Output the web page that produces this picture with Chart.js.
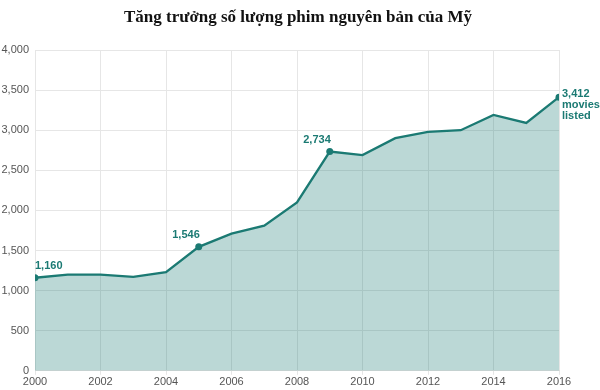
<!DOCTYPE html>
<html>
<head>
<meta charset="utf-8">
<script src="https://cdn.jsdelivr.net/npm/chart.js@4"></script>
<style>
  html, body { margin: 0; padding: 0; background: #fff; }
  #wrap { width: 600px; height: 390px; }
</style>
</head>
<body>
<div id="wrap"><canvas id="filmChart"></canvas></div>
<script>
// data
const years = [2000, 2001, 2002, 2003, 2004, 2005, 2006, 2007, 2008, 2009, 2010, 2011, 2012, 2013, 2014, 2015, 2016];
const movieCounts = [1160, 1200, 1200, 1170, 1230, 1546, 1710, 1810, 2100, 2734, 2690, 2900, 2980, 3000, 3190, 3090, 3412];
const labelledYears = [2000, 2005, 2009, 2016];
const labelExtra = { 2016: ['movies', 'listed'] };
const chartTitle = 'Tăng trưởng số lượng phim nguyên bản của Mỹ';

const lineColor = '#1b7a73';

// title centred on the whole canvas (the built-in one centres on the padded box)
const pageTitle = {
    id: 'pageTitle',
    afterDraw(chart) {
        const ctx = chart.ctx;
        ctx.save();
        ctx.fillStyle = '#111';
        ctx.font = "bold 17px 'Liberation Serif', 'Times New Roman', serif";
        ctx.textAlign = 'center';
        ctx.textBaseline = 'alphabetic';
        ctx.fillText(chartTitle, 298, 22);
        ctx.restore();
    }
};

// draws the value labels next to the marked points
const pointLabels = {
    id: 'pointLabels',
    afterDatasetsDraw(chart) {
        const ctx = chart.ctx;
        const meta = chart.getDatasetMeta(0);
        ctx.save();
        ctx.fillStyle = lineColor;
        ctx.font = 'bold 11px Arial';
        ctx.textBaseline = 'middle';
        labelledYears.forEach((yr, n) => {
            const i = years.indexOf(yr);
            const pt = meta.data[i];
            const txt = movieCounts[i].toLocaleString('en-US');
            if (n === 0) {
                ctx.textAlign = 'left';
                ctx.fillText(txt, pt.x, pt.y - 12);
            } else if (labelExtra[yr]) {
                ctx.textAlign = 'left';
                ctx.fillText(txt, pt.x + 3, pt.y - 3);
                labelExtra[yr].forEach((line, k) => {
                    ctx.fillText(line, pt.x + 3, pt.y + 8 + k * 11);
                });
            } else {
                ctx.textAlign = 'right';
                ctx.fillText(txt, pt.x + 1, pt.y - 12);
            }
        });
        ctx.restore();
    }
};

const ctx = document.getElementById('filmChart').getContext('2d');
new Chart(ctx, {
    type: 'line',
    data: {
        datasets: [{
            data: years.map((y, i) => ({ x: y, y: movieCounts[i] })),
            borderColor: lineColor,
            backgroundColor: 'rgba(30, 125, 120, 0.3)',
            fill: 'origin',
            borderWidth: 2.3,
            tension: 0,
            pointRadius: years.map(y => labelledYears.includes(y) ? 3.5 : 0),
            pointBackgroundColor: lineColor,
            pointBorderColor: lineColor,
            pointBorderWidth: 0
        }]
    },
    options: {
        responsive: true,
        maintainAspectRatio: false,
        animation: false,
        layout: {
            padding: { top: 50, right: 41, bottom: 0, left: 0 }
        },
        scales: {
            x: {
                type: 'linear',
                min: 2000,
                max: 2016,
                ticks: {
                    stepSize: 2,
                    color: '#555',
                    font: { size: 11, family: 'Arial' },
                    padding: 1,
                    maxRotation: 0,
                    callback: v => String(v)
                },
                grid: {
                    color: '#e6e6e6',
                    tickLength: 4
                },
                border: { color: '#dddddd' }
            },
            y: {
                min: 0,
                max: 4000,
                afterFit: (scale) => { scale.width = 35; },
                ticks: {
                    stepSize: 500,
                    color: '#555',
                    font: { size: 11, family: 'Arial' },
                    padding: 6
                },
                grid: {
                    color: '#e6e6e6',
                    drawTicks: false
                },
                border: { display: false }
            }
        },
        plugins: {
            legend: { display: false },
            tooltip: { enabled: false },
            title: { display: false }
        }
    },
    plugins: [pointLabels, pageTitle]
});
</script>
</body>
</html>
